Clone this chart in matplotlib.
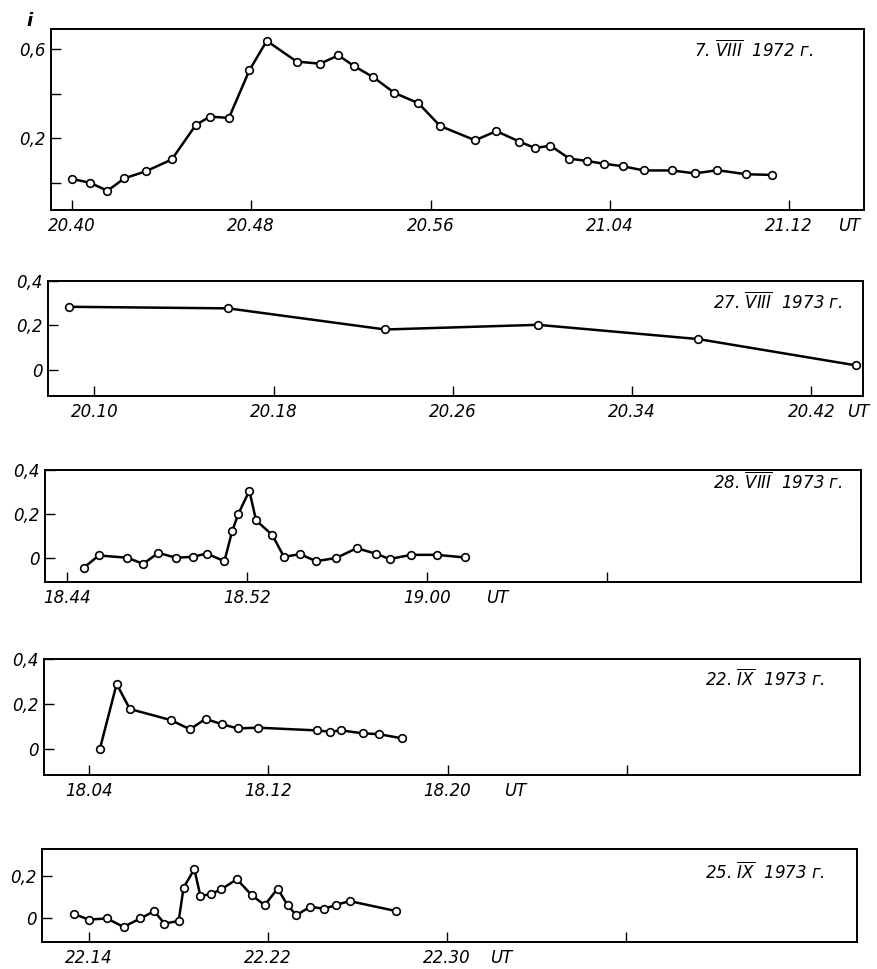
import matplotlib
matplotlib.use("Agg")
import matplotlib.pyplot as plt

plt.rcParams['font.family'] = ['DejaVu Sans']
plt.rcParams['font.style'] = 'italic'
plt.rcParams['mathtext.fontset'] = 'dejavusans'

# time in minutes from the first labelled tick of each night, intensity i
t1 = [0, 0.8, 1.58, 2.34, 3.29, 4.45, 5.52, 6.15, 7.0, 7.92, 8.69, 10.03, 11.07,
      11.89, 12.59, 13.45, 14.39, 15.46, 16.43, 17.99, 18.94, 19.97, 20.67, 21.35,
      22.2, 23.0, 23.74, 24.58, 25.52, 26.77, 27.8, 28.81, 30.09, 31.26]
i1 = [0.019, 0.002, -0.034, 0.022, 0.053, 0.106, 0.26, 0.298, 0.292, 0.506, 0.637,
      0.544, 0.535, 0.572, 0.524, 0.474, 0.404, 0.358, 0.256, 0.192, 0.233, 0.186,
      0.157, 0.168, 0.11, 0.099, 0.087, 0.076, 0.057, 0.057, 0.044, 0.058, 0.04, 0.037]

t2 = [-1.12, 5.97, 12.98, 19.79, 26.94, 33.97]
i2 = [0.284, 0.277, 0.182, 0.203, 0.139, 0.021]

t3 = [0.73, 1.39, 2.66, 3.37, 4.04, 4.82, 5.6, 6.19, 6.98, 7.33, 7.6, 8.09, 8.39,
      9.11, 9.63, 10.35, 11.06, 11.96, 12.87, 13.72, 14.33, 15.29, 16.44, 17.67]
i3 = [-0.042, 0.013, 0.003, -0.025, 0.025, 0.003, 0.007, 0.022, -0.013, 0.125, 0.201,
      0.306, 0.172, 0.106, 0.007, 0.019, -0.013, 0.002, 0.046, 0.021, -0.003, 0.016,
      0.016, 0.004]

t4 = [0.49, 1.24, 1.83, 3.65, 4.51, 5.21, 5.95, 6.64, 7.56, 10.17, 10.76, 11.25,
      12.22, 12.96, 13.96]
i4 = [0.0, 0.289, 0.178, 0.129, 0.088, 0.134, 0.11, 0.092, 0.095, 0.083, 0.077,
      0.083, 0.07, 0.066, 0.048]

t5 = [-0.64, 0, 0.82, 1.56, 2.31, 2.93, 3.38, 4.02, 4.24, 4.72, 4.99, 5.46, 5.92,
      6.62, 7.29, 7.86, 8.44, 8.88, 9.27, 9.9, 10.52, 11.06, 11.65, 13.74]
i5 = [0.018, -0.008, -0.003, -0.043, -0.003, 0.032, -0.027, -0.015, 0.144, 0.232,
      0.104, 0.113, 0.136, 0.184, 0.107, 0.061, 0.139, 0.061, 0.013, 0.053, 0.043,
      0.062, 0.08, 0.032]

ticks1 = ['20.40', '20.48', '20.56', '21.04', '21.12']
ticks2 = ['20.10', '20.18', '20.26', '20.34', '20.42']
ticks3 = ['18.44', '18.52', '19.00', '']
ticks4 = ['18.04', '18.12', '18.20', '']
ticks5 = ['22.14', '22.22', '22.30', '']

dates = [r'7. $\overline{VIII}$  1972 г.', r'27. $\overline{VIII}$  1973 г.',
         r'28. $\overline{VIII}$  1973 г.', r'22. $\overline{IX}$  1973 г.',
         r'25. $\overline{IX}$  1973 г.']

W, H = 878, 969
fig = plt.figure(figsize=(W / 100, H / 100), dpi=100)


def add_axes(l, r, top, bot):
    return fig.add_axes([l / W, 1 - bot / H, (r - l) / W, (bot - top) / H])


# panel boxes in pixels: left, right, top, bottom
boxes = [(51, 864, 29, 210), (48, 863, 281, 396), (45, 861, 470, 582),
         (44, 860, 659, 775), (42, 857, 849, 942)]
series = [(t1, i1), (t2, i2), (t3, i3), (t4, i4), (t5, i5)]
xlims = [(-0.94, 35.35), (-2.07, 34.3), (-1.0, 35.3), (-2.0, 34.4), (-2.08, 34.3)]
ylims = [(-0.12, 0.69), (-0.117, 0.4), (-0.107, 0.385), (-0.115, 0.4), (-0.115, 0.328)]
xticklabels = [ticks1, ticks2, ticks3, ticks4, ticks5]
yticks = [[0, 0.2, 0.4, 0.6], [0, 0.2, 0.4], [0, 0.2, 0.4], [0, 0.2, 0.4], [0, 0.2]]
yticklabels = [['', '0,2', '', '0,6'], ['0', '0,2', '0,4'], ['0', '0,2', '0,4'],
               ['0', '0,2', '0,4'], ['0', '0,2']]
ut_x = [34.7, 34.1, 19.1, 19.0, 18.4]
date_pos = [(0.937, 0.884), (0.975, 0.817), (0.978, 0.89), (0.957, 0.82), (0.961, 0.75)]

for k in range(5):
    ax = add_axes(*boxes[k])
    t, v = series[k]
    ax.plot(t, v, color='black', lw=1.8, marker='o', ms=5.5, mfc='white',
            mec='black', mew=1.2, zorder=3)
    ax.set_xlim(*xlims[k])
    ax.set_ylim(*ylims[k])
    labs = xticklabels[k]
    ax.set_xticks([8 * j for j in range(len(labs))])
    ax.set_xticklabels(labs, fontsize=12)
    ax.set_yticks(yticks[k])
    ax.set_yticklabels(yticklabels[k], fontsize=12)
    ax.tick_params(direction='in', length=7, width=1.0)
    ax.tick_params(axis='x', pad=5)
    ax.tick_params(axis='y', pad=4)
    for s in ax.spines.values():
        s.set_linewidth(1.4)
    ax.annotate('UT', xy=(ut_x[k], 0), xycoords=('data', 'axes fraction'),
                xytext=(0, -5), textcoords='offset points', fontsize=12,
                ha='center', va='top')
    dx, dy = date_pos[k]
    ax.text(dx, dy, dates[k], transform=ax.transAxes, fontsize=12,
            ha='right', va='center')
    if k == 0:
        ax.text(-0.026, 0.995, 'i', transform=ax.transAxes, fontsize=13,
                fontweight='bold', ha='center', va='bottom')

fig.savefig('out.png', dpi=100)
